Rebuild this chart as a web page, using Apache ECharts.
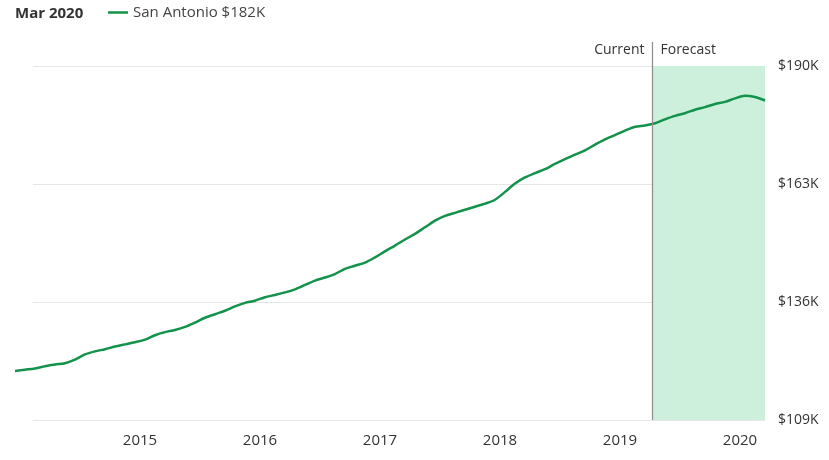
<!DOCTYPE html>
<html>
<head>
<meta charset="utf-8">
<script src="https://cdn.jsdelivr.net/npm/echarts@6/dist/echarts.min.js"></script>
<style>
	html, body { margin: 0; padding: 0; background: #fff; }
	#chart { width: 829px; height: 460px; }
</style>
</head>
<body>
<div id="chart"></div>
<script>
	const firstMonth = [2013, 12]
	const forecastFrom = [2019, 4]
	const latestLabel = "Mar 2020"
	const seriesName = "San Antonio"
	const yearTicks = [2015, 2016, 2017, 2018, 2019, 2020]
	const priceTicks = [109, 136, 163, 190]

	// typical home value, $K, one per month from Dec 2013
	const homeValues = [
		120.2, 120.5, 120.8, 121.3, 121.7, 122.0, 122.8, 124.0, 124.7, 125.2, 125.8, 126.3,
		126.8, 127.4, 128.4, 129.1, 129.6, 130.3, 131.3, 132.4, 133.2, 134.0, 135.0, 135.8,
		136.3, 137.1, 137.6, 138.2, 138.9, 139.9, 140.9, 141.6, 142.4, 143.6, 144.3, 145.0,
		146.2, 147.6, 148.9, 150.3, 151.6, 153.1, 154.6, 155.7, 156.4, 157.1, 157.8, 158.5,
		159.4, 161.2, 163.1, 164.5, 165.5, 166.4, 167.6, 168.7, 169.7, 170.7, 172.0, 173.2,
		174.2, 175.2, 176.1, 176.4, 176.9, 177.8, 178.6, 179.2, 180.0, 180.6, 181.3, 181.8,
		182.6, 183.2, 182.9, 182.1
	]

	const green = "#12924a"
	const textColor = "#333"
	const font = "'Open Sans', 'Noto Sans', sans-serif"

	// mid-month position on a year scale
	function monthPos(y, m) {
		return y + (m - 0.5) / 12
	}

	const points = homeValues.map((v, i) => [monthPos(firstMonth[0], firstMonth[1] + i), v])
	const xMin = points[0][0]
	const xMax = points[points.length - 1][0]
	// divider sits at the start of the forecast month
	const forecastX = monthPos(forecastFrom[0], forecastFrom[1]) - 0.25 / 12
	const latest = homeValues[homeValues.length - 1]

	const chart = echarts.init(document.getElementById("chart"))

	chart.setOption({
		animation: false,
		textStyle: { fontFamily: font },
		title: {
			text: latestLabel,
			left: 15,
			top: 6,
			padding: 0,
			textStyle: { fontSize: 15, fontWeight: "bold", color: textColor, fontFamily: font }
		},
		legend: {
			left: 108,
			top: 5,
			padding: 0,
			icon: "rect",
			itemWidth: 20,
			itemHeight: 2.5,
			textStyle: { fontSize: 15, color: "#444", fontFamily: font },
			formatter: name => name + " $" + Math.round(latest) + "K",
			data: [seriesName]
		},
		grid: [
			{ left: 15, right: 64, top: 66, bottom: 40 },
			{ left: 33, right: 64, top: 66, bottom: 40 }
		],
		xAxis: [
			{
				type: "value",
				gridIndex: 0,
				min: xMin,
				max: xMax,
				axisLine: { show: false },
				axisTick: { show: false },
				splitLine: { show: false },
				axisLabel: {
					customValues: yearTicks,
					formatter: v => String(Math.round(v)),
					color: textColor,
					fontSize: 15,
					margin: 13
				}
			},
			{
				type: "value",
				gridIndex: 1,
				min: 0,
				max: 1,
				show: false
			}
		],
		yAxis: [
			{
				type: "value",
				gridIndex: 0,
				position: "right",
				min: priceTicks[0],
				max: priceTicks[priceTicks.length - 1],
				interval: priceTicks[1] - priceTicks[0],
				axisLine: { show: false },
				axisTick: { show: false },
				splitLine: { show: false },
				axisLabel: {
					formatter: v => "$" + v + "K",
					color: textColor,
					fontSize: 14,
					margin: 13
				}
			},
			{
				type: "value",
				gridIndex: 1,
				position: "right",
				min: priceTicks[0],
				max: priceTicks[priceTicks.length - 1],
				interval: priceTicks[1] - priceTicks[0],
				axisLine: { show: false },
				axisTick: { show: false },
				axisLabel: { show: false },
				splitLine: { lineStyle: { color: "#e6e6e6", width: 1 } }
			}
		],
		series: [
			{
				// forecast shading, kept under the grid lines
				type: "line",
				xAxisIndex: 0,
				yAxisIndex: 0,
				z: -1,
				silent: true,
				data: [],
				markArea: {
					silent: true,
					itemStyle: { color: "#cdf0dc" },
					data: [[{ xAxis: forecastX, yAxis: priceTicks[0] }, { xAxis: xMax, yAxis: priceTicks[priceTicks.length - 1] }]]
				}
			},
			{
				name: seriesName,
				type: "line",
				xAxisIndex: 0,
				yAxisIndex: 0,
				data: points,
				showSymbol: false,
				smooth: 0.3,
				z: 5,
				lineStyle: { color: green, width: 2.5 },
				itemStyle: { color: green }
			}
		]
	})

	// current / forecast divider
	const px = chart.convertToPixel({ xAxisIndex: 0 }, forecastX)
	const bottom = chart.convertToPixel({ yAxisIndex: 0 }, priceTicks[0])
	chart.setOption({
		graphic: [
			{
				type: "line",
				z: 10,
				shape: { x1: px, y1: 42, x2: px, y2: bottom },
				style: { stroke: "#8c8c8c", lineWidth: 1.2 }
			},
			{
				type: "text",
				x: px - 8,
				y: 50,
				style: { text: "Current", fill: textColor, font: "14px " + font, align: "right", verticalAlign: "middle" }
			},
			{
				type: "text",
				x: px + 8,
				y: 50,
				style: { text: "Forecast", fill: textColor, font: "14px " + font, align: "left", verticalAlign: "middle" }
			}
		]
	})
</script>
</body>
</html>
